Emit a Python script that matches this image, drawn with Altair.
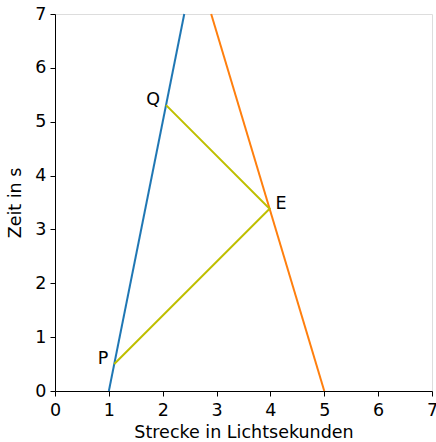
import altair as alt
import pandas as pd

# World lines of the two observers (x in light-seconds, t in seconds)
blue_x = [1.0, 2.4]
blue_t = [0.0, 7.0]
orange_x = [5.0, 2.9]
orange_t = [0.0, 7.0]

# Light signal P -> E -> Q
signal_x = [1.1, 3.985, 2.062]
signal_t = [0.5, 3.385, 5.308]

# Event labels
label_names = ["P", "E", "Q"]
label_x = [1.1, 3.985, 2.062]
label_t = [0.5, 3.385, 5.308]
label_align = ["right", "left", "right"]

FONT = "DejaVu Sans"
FS = 17.5

rows = []
for i, (x, t) in enumerate(zip(blue_x, blue_t)):
    rows.append({"series": "blue", "x": x, "t": t, "o": i})
for i, (x, t) in enumerate(zip(orange_x, orange_t)):
    rows.append({"series": "orange", "x": x, "t": t, "o": i})
for i, (x, t) in enumerate(zip(signal_x, signal_t)):
    rows.append({"series": "signal", "x": x, "t": t, "o": i})
lines_df = pd.DataFrame(rows)

labels_df = pd.DataFrame({
    "name": label_names, "x": label_x, "t": label_t, "align": label_align,
})

xscale = alt.Scale(domain=[0, 7], nice=False, zero=False)
yscale = alt.Scale(domain=[0, 7], nice=False, zero=False)

axis_common = dict(
    labelFont=FONT, labelFontSize=FS, labelColor="black",
    titleFont=FONT, titleFontSize=FS, titleFontWeight="normal", titleColor="black",
    domainColor="black", domainWidth=1, tickColor="black", tickSize=5, tickWidth=1,
    grid=False, values=list(range(8)), format="d", labelFlush=False,
)

lines = alt.Chart(lines_df).mark_line(strokeWidth=2).encode(
    x=alt.X("x:Q", scale=xscale,
            axis=alt.Axis(title="Strecke in Lichtsekunden", titlePadding=5,
                          labelPadding=5, **axis_common)),
    y=alt.Y("t:Q", scale=yscale,
            axis=alt.Axis(title="Zeit in s", titlePadding=10,
                          labelPadding=4, **axis_common)),
    color=alt.Color("series:N", legend=None,
                    scale=alt.Scale(domain=["blue", "orange", "signal"],
                                    range=["#1f77b4", "#ff7f0e", "#bfbf00"])),
    detail="series:N",
    order="o:Q",
)

def label_layer(align, dx):
    sub = labels_df[labels_df["align"] == align]
    return alt.Chart(sub).mark_text(
        font=FONT, fontSize=FS, color="black", align=align, baseline="bottom", dx=dx, dy=4
    ).encode(x=alt.X("x:Q", scale=xscale), y=alt.Y("t:Q", scale=yscale), text="name:N")

chart = alt.layer(lines, label_layer("right", -6), label_layer("left", 6)).properties(
    width=377, height=377,
    autosize=alt.AutoSizeParams(type="none"),
    padding={"left": 55, "top": 14, "right": 4, "bottom": 51},
).configure_view(stroke="black", strokeWidth=1).configure(background="white")

chart.save("out.html", embed_options={"renderer": "svg", "actions": False})
